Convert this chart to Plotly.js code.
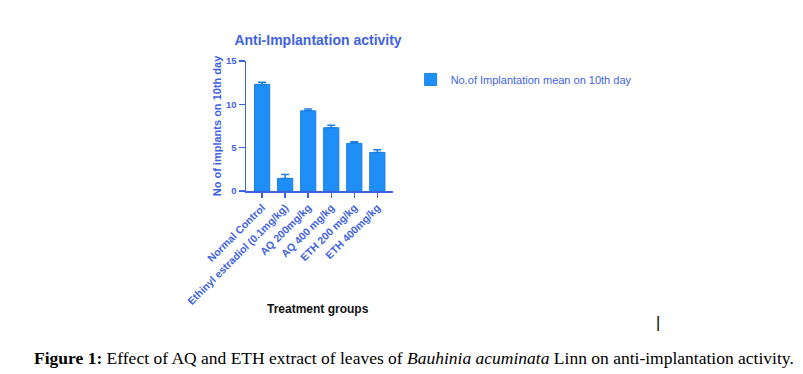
<!DOCTYPE html>
<html>
<head>
<meta charset="utf-8">
<script src="https://cdn.plot.ly/plotly-3.0.1.min.js"></script>
<style>
html,body{margin:0;padding:0;background:#fff;}
#chart{width:803px;height:374px;}
</style>
</head>
<body>
<div id="chart"></div>
<script>
const categories = ["Normal Control", "Ethinyl estradiol (0.1mg/kg)", "AQ 200mg/kg", "AQ 400 mg/kg", "ETH 200 mg/kg", "ETH 400mg/kg"];
const meanImplants = [12.3, 1.45, 9.25, 7.3, 5.5, 4.45];
const errorUp = [0.25, 0.45, 0.2, 0.3, 0.18, 0.3];
const yTicks = [0, 5, 10, 15];
const seriesName = "No.of Implantation mean on 10th day";

const blue = "#1f8ff7";
const textBlue = "#3f63e0";
const sans = "Liberation Sans, Arial, sans-serif";

const trace = {
  type: "bar",
  x: categories,
  y: meanImplants,
  name: seriesName,
  marker: {color: blue, line: {color: "#1a7fe0", width: 1}},
  error_y: {type: "data", symmetric: false, array: errorUp, arrayminus: errorUp.map(() => 0), color: "#1a7fe0", thickness: 1.5, width: 4},
  showlegend: true
};

const layout = {
  width: 803, height: 374,
  margin: {l: 246, r: 410, t: 61, b: 183},
  paper_bgcolor: "#fff", plot_bgcolor: "#fff",
  font: {family: sans, color: textBlue},
  bargap: 0.34,
  showlegend: true,
  title: {text: "<b>Anti-Implantation activity</b>", font: {size: 14, color: textBlue}, x: 0.49, xref: "paper", xanchor: "center", y: 0.893, yref: "container", yanchor: "middle"},
  legend: {x: 1.12, y: 0.97, xanchor: "left", yanchor: "top", font: {size: 11, color: textBlue}, bgcolor: "rgba(0,0,0,0)", itemwidth: 30},
  xaxis: {
    type: "category", range: [-0.7, 5.68], showline: true, linecolor: textBlue, linewidth: 1.5,
    ticks: "outside", ticklen: 5, tickcolor: textBlue, tickwidth: 1.5,
    tickangle: -45, tickfont: {size: 10.5, color: textBlue, family: sans, weight: 700},
    showgrid: false, zeroline: false, fixedrange: true
  },
  yaxis: {
    range: [0, 15], tickvals: yTicks, showline: true, linecolor: textBlue, linewidth: 1.5,
    ticks: "outside", ticklen: 6, tickcolor: textBlue, tickwidth: 1.5,
    tickfont: {size: 9.5, color: textBlue, weight: 700}, showgrid: false, zeroline: false,
    title: {text: "<b>No of implants on 10th day</b>", font: {size: 11, color: textBlue}, standoff: 2}
  },
  annotations: [
    {text: "<b>Treatment groups</b>", xref: "paper", yref: "paper", x: 0.49, y: -0.91, xanchor: "center", yanchor: "middle", showarrow: false, font: {size: 12, color: "#111", family: sans}},
    {text: "<b>Figure 1:</b> Effect of AQ and ETH extract of leaves of <i>Bauhinia acuminata</i> Linn on anti-implantation activity.", xref: "paper", yref: "paper", x: -1.459, y: -1.285, xanchor: "left", yanchor: "middle", showarrow: false, font: {size: 17.5, color: "#000", family: "Liberation Serif, Times New Roman, serif"}},
    {text: "|", xref: "paper", yref: "paper", x: (658 - 246) / 147, y: (191 - 322) / 130, xanchor: "center", yanchor: "middle", showarrow: false, font: {size: 16, color: "#000", family: sans}}
  ]
};

Plotly.newPlot("chart", [trace], layout, {displayModeBar: false, staticPlot: true});
</script>
</body>
</html>
